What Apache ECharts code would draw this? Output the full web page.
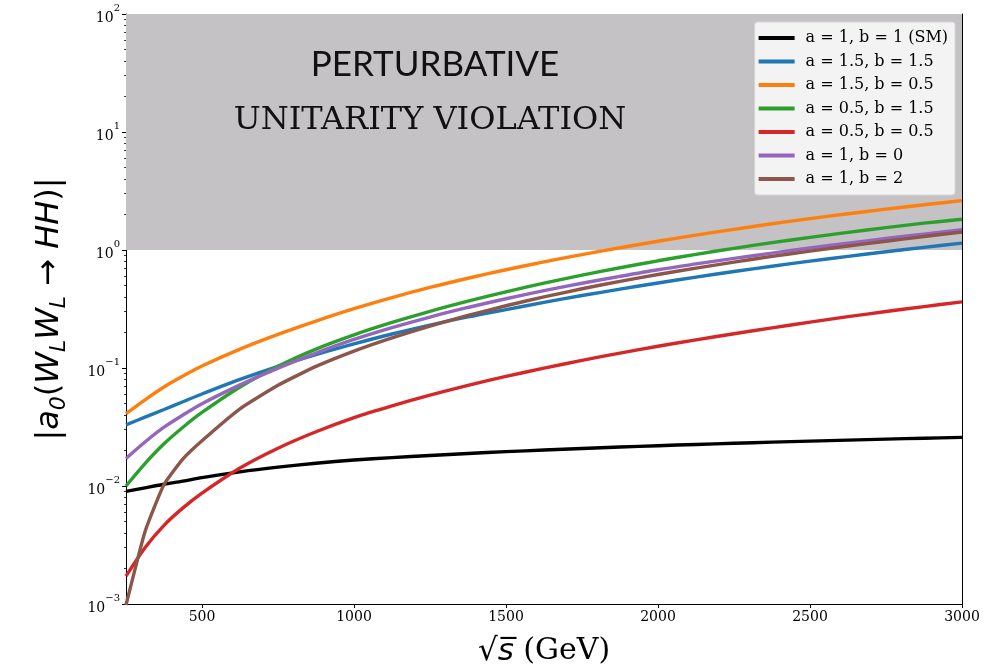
<!DOCTYPE html>
<html>
<head>
<meta charset="utf-8">
<script src="https://cdn.jsdelivr.net/npm/echarts@6/dist/echarts.min.js"></script>
<style>
html,body{margin:0;padding:0;background:#fff;}
#chart{width:1004px;height:672px;}
</style>
</head>
<body>
<div id="chart"></div>
<script>
// sqrt(s) sample points (GeV)
const sqrtS = [250, 312.5, 375, 437.5, 500, 625, 750, 875, 1000, 1125, 1250, 1375, 1500, 1625, 1750, 1875, 2000, 2125, 2250, 2375, 2500, 2625, 2750, 2875, 3000];

const seriesNames = [
  'a = 1, b = 1 (SM)',
  'a = 1.5, b = 1.5',
  'a = 1.5, b = 0.5',
  'a = 0.5, b = 1.5',
  'a = 0.5, b = 0.5',
  'a = 1, b = 0',
  'a = 1, b = 2'
];
const seriesColors = ['#000000', '#1f77b4', '#ff7f0e', '#2ca02c', '#d62728', '#9467bd', '#8c564b'];

const sm_a1_b1 = [0.0090, 0.00965, 0.01035, 0.0110, 0.01179, 0.01318, 0.01444, 0.01560, 0.0166, 0.01740, 0.01815, 0.01886, 0.01954, 0.02018, 0.02080, 0.02138, 0.02195, 0.02250, 0.02302, 0.02353, 0.02402, 0.02450, 0.02496, 0.02541, 0.02585];
const a15_b15  = [0.033, 0.0383, 0.0445, 0.0518, 0.0602, 0.0800, 0.1033, 0.1299, 0.160, 0.1941, 0.2310, 0.2711, 0.3127, 0.3596, 0.4112, 0.4659, 0.5256, 0.5898, 0.6574, 0.7291, 0.8046, 0.8838, 0.9668, 1.0530, 1.1434];
const a15_b05  = [0.041, 0.0538, 0.0691, 0.0855, 0.1039, 0.1446, 0.1928, 0.250, 0.318, 0.3949, 0.4813, 0.5764, 0.6805, 0.7927, 0.9142, 1.0443, 1.185, 1.337, 1.497, 1.668, 1.846, 2.027, 2.218, 2.416, 2.619];
const a05_b15  = [0.0100, 0.0155, 0.0228, 0.0315, 0.0420, 0.0690, 0.1035, 0.1447, 0.191, 0.2431, 0.3024, 0.3685, 0.4421, 0.5231, 0.6119, 0.7071, 0.810, 0.9189, 1.0336, 1.154, 1.280, 1.410, 1.546, 1.689, 1.82];
const a05_b05  = [0.00172, 0.0030, 0.00464, 0.00652, 0.0087, 0.0142, 0.0209, 0.0288, 0.0380, 0.0478, 0.0589, 0.0713, 0.0849, 0.0996, 0.1160, 0.1338, 0.1530, 0.1733, 0.1952, 0.2190, 0.2447, 0.2722, 0.3012, 0.3316, 0.3636];
const a1_b0    = [0.0171, 0.0236, 0.0315, 0.0400, 0.0498, 0.0719, 0.0998, 0.1339, 0.1746, 0.2198, 0.2704, 0.3258, 0.3864, 0.4519, 0.5224, 0.5984, 0.6808, 0.7621, 0.8492, 0.9419, 1.0399, 1.1429, 1.2503, 1.3646, 1.486];
const a1_b2    = [0.00098, 0.0041, 0.0103, 0.0170, 0.0242, 0.0451, 0.0714, 0.1032, 0.1392, 0.1801, 0.2268, 0.2790, 0.3370, 0.4005, 0.4694, 0.5428, 0.6202, 0.7024, 0.7901, 0.8823, 0.9786, 1.0804, 1.1872, 1.3017, 1.421];

const allValues = [sm_a1_b1, a15_b15, a15_b05, a05_b15, a05_b05, a1_b0, a1_b2];

const xTickValues = [500, 1000, 1500, 2000, 2500, 3000];
const unitarityBand = [1, 100];

const yMinor = [];
for (let e = -3; e < 2; e++) for (let m = 2; m <= 9; m++) yMinor.push(m * Math.pow(10, e));

const chart = echarts.init(document.getElementById('chart'), null, {renderer: 'canvas'});

const lineSeries = seriesNames.map((name, i) => ({
  name: name,
  type: 'line',
  xAxisIndex: 0,
  yAxisIndex: 0,
  showSymbol: false,
  smooth: i === 6 ? 0.15 : 0.3,
  data: sqrtS.map((x, j) => [x, allValues[i][j]]),
  lineStyle: {width: 3.4, color: seriesColors[i]},
  itemStyle: {color: seriesColors[i]},
  z: 3 + i,
  clip: true
}));

const bandSeries = {
  name: 'band',
  type: 'line',
  xAxisIndex: 0,
  yAxisIndex: 0,
  data: [],
  silent: true,
  z: 1,
  markArea: {
    silent: true,
    itemStyle: {color: '#c4c2c4'},
    data: [[{yAxis: unitarityBand[0]}, {yAxis: unitarityBand[1]}]]
  }
};

const serifFont = "'DejaVu Serif', serif";

const option = {
  animation: false,
  backgroundColor: '#ffffff',
  grid: {left: 126, right: 42, top: 14, bottom: 67, containLabel: false},
  legend: {
    data: seriesNames,
    orient: 'vertical',
    right: 49,
    top: 22,
    icon: 'rect',
    itemWidth: 36,
    itemHeight: 4,
    itemGap: 5.5,
    padding: [7, 7, 7, 4],
    backgroundColor: '#f3f3f3',
    borderColor: '#d6d6d6',
    borderWidth: 1,
    borderRadius: 3,
    textStyle: {fontFamily: serifFont, fontSize: 16, color: '#000', lineHeight: 18, padding: [0, 0, 0, 6]},
    selectedMode: false
  },
  xAxis: [{
    type: 'value',
    min: 250,
    max: 3000,
    position: 'bottom',
    name: '{sq|\u221A}{s|s\u0305}{g| (GeV)}',
    nameLocation: 'middle',
    nameGap: 32,
    nameTextStyle: {
      rich: {
        sq: {fontFamily: "'DejaVu Sans', sans-serif", fontSize: 31, color: '#000'},
        s: {fontFamily: "'DejaVu Sans', sans-serif", fontStyle: 'italic', fontSize: 31, color: '#000'},
        g: {fontFamily: serifFont, fontSize: 30, color: '#000'}
      }
    },
    axisLine: {show: true, onZero: false, lineStyle: {color: '#000', width: 1}},
    axisTick: {show: true, inside: false, length: 4, customValues: xTickValues, lineStyle: {color: '#000'}},
    axisLabel: {
      show: true, customValues: xTickValues, fontFamily: serifFont, fontSize: 14, color: '#000', margin: 6,
      formatter: function (v) { return String(v); }
    },
    splitLine: {show: false}
  }, {
    type: 'value',
    min: 250,
    max: 3000,
    position: 'top',
    axisLine: {show: true, onZero: false, lineStyle: {color: '#000', width: 1}},
    axisTick: {show: false},
    axisLabel: {show: false},
    splitLine: {show: false}
  }],
  yAxis: [{
    type: 'log',
    logBase: 10,
    min: 0.001,
    max: 100,
    position: 'left',
    name: '{n||}{i|a}{sb|0}{n|(}{i|W}{sb|L}{i|W}{sb|L}{n| \u2192 }{i|HH}{n|)|}',
    nameLocation: 'middle',
    nameRotate: 90,
    nameGap: 56,
    nameTextStyle: {
      rich: {
        n: {fontFamily: "'DejaVu Sans', sans-serif", fontSize: 32, color: '#000', lineHeight: 40, verticalAlign: 'middle'},
        i: {fontFamily: "'DejaVu Sans', sans-serif", fontStyle: 'italic', fontSize: 32, color: '#000', lineHeight: 40, verticalAlign: 'middle'},
        sb: {fontFamily: "'DejaVu Sans', sans-serif", fontStyle: 'italic', fontSize: 22, color: '#000', lineHeight: 16, verticalAlign: 'bottom'}
      }
    },
    axisLine: {show: true, onZero: false, lineStyle: {color: '#000', width: 1}},
    axisTick: {show: true, inside: false, length: 4, lineStyle: {color: '#000'}},
    axisLabel: {
      show: true,
      margin: 6,
      formatter: function (v) {
        const e = Math.round(Math.log10(v));
        const es = String(e).replace('-', '\u2212');
        return '{b|10}{p|' + es + '}';
      },
      rich: {
        b: {fontFamily: serifFont, fontSize: 14, color: '#000', lineHeight: 22, verticalAlign: 'bottom'},
        p: {fontFamily: serifFont, fontSize: 10, color: '#000', lineHeight: 14, verticalAlign: 'top'}
      }
    },
    splitLine: {show: false}
  }, {
    type: 'log',
    logBase: 10,
    min: 0.001,
    max: 100,
    position: 'left',
    axisLine: {show: false},
    axisTick: {show: true, inside: false, length: 2, customValues: yMinor, lineStyle: {color: '#000', width: 0.8}},
    axisLabel: {show: false},
    splitLine: {show: false}
  }, {
    type: 'log',
    logBase: 10,
    min: 0.001,
    max: 100,
    position: 'right',
    axisLine: {show: true, onZero: false, lineStyle: {color: '#000', width: 1}},
    axisTick: {show: false},
    axisLabel: {show: false},
    splitLine: {show: false}
  }],
  graphic: [{
    type: 'text',
    style: {
      text: 'PERTURBATIVE',
      x: 435,
      y: 65,
      align: 'center',
      verticalAlign: 'middle',
      font: "normal 35px 'Lato', 'Open Sans', sans-serif",
      fill: '#111'
    },
    z: 50
  }, {
    type: 'text',
    style: {
      text: 'UNITARITY VIOLATION',
      x: 430,
      y: 121,
      align: 'center',
      verticalAlign: 'middle',
      font: "normal 32px 'DejaVu Serif', serif",
      fill: '#111'
    },
    z: 50
  }],
  series: [bandSeries].concat(lineSeries)
};

chart.setOption(option);
</script>
</body>
</html>
